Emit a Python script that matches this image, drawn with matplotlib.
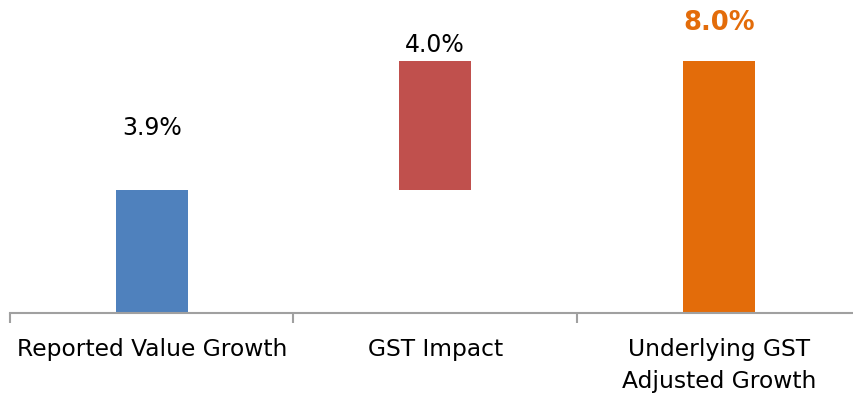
import matplotlib.pyplot as plt

# waterfall: reported growth + GST impact = underlying growth
categories = ["Reported Value Growth", "GST Impact", "Underlying GST\nAdjusted Growth"]
reported = 3.9
gst_impact = 4.0
underlying = 8.0
labels = ["3.9%", "4.0%", "8.0%"]

bottoms = [0, reported, 0]
heights = [reported, underlying - reported, underlying]
colors = ["#4F81BD", "#C0504D", "#E36C0A"]

fig = plt.figure(figsize=(8.54, 3.94), dpi=100)
# axes runs past the right edge, like the original slide
ax = fig.add_axes([10 / 854, 81 / 394, 850.5 / 854, 313 / 394])

x = range(len(categories))
ax.bar(x, heights, bottom=bottoms, width=0.254, color=colors)

ax.set_xlim(-0.5, 2.5)
ax.set_ylim(0, 313 / 31.5)

# value labels, offsets in points above the bar tops
offsets = [44.5, 11.5, 27]
sizes = [17, 17, 18.5]
for i in x:
    top = bottoms[i] + heights[i]
    bold = i == 2
    ax.annotate(labels[i], (i, top), xytext=(0, offsets[i]), textcoords="offset points",
                ha="center", va="center", fontsize=sizes[i],
                fontweight="bold" if bold else "normal",
                color=colors[2] if bold else "black")

for s in ["top", "right", "left"]:
    ax.spines[s].set_visible(False)
ax.spines["bottom"].set_color("#A0A0A0")
ax.spines["bottom"].set_linewidth(1.5)
ax.set_yticks([])

ax.set_xticks([-0.5, 0.5, 1.5, 2.5], minor=False)
ax.set_xticklabels([])
ax.tick_params(axis="x", length=7, width=1.5, color="#A0A0A0", direction="out")
ax.set_xticks(list(x), minor=True)
ax.set_xticklabels(categories, minor=True, fontsize=16.8, linespacing=1.5)
ax.tick_params(axis="x", which="minor", length=0, pad=18)

fig.savefig("out.png", dpi=100)
